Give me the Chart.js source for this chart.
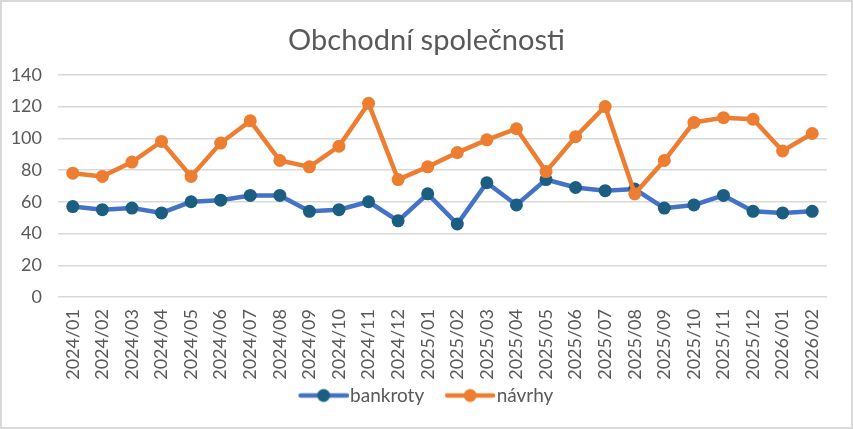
<!DOCTYPE html>
<html>
<head>
<meta charset="utf-8">
<script src="https://cdn.jsdelivr.net/npm/chart.js@4"></script>
<style>
  html, body { margin: 0; padding: 0; background: #fff; }
  #wrap { width: 853px; height: 429px; box-sizing: border-box; border: 2px solid #d9d9d9; }
</style>
</head>
<body>
<div id="wrap"><canvas id="chart"></canvas></div>
<script>
var months = ["2024/01", "2024/02", "2024/03", "2024/04", "2024/05", "2024/06", "2024/07",
  "2024/08", "2024/09", "2024/10", "2024/11", "2024/12", "2025/01", "2025/02", "2025/03",
  "2025/04", "2025/05", "2025/06", "2025/07", "2025/08", "2025/09", "2025/10", "2025/11",
  "2025/12", "2026/01", "2026/02"];
var bankroty = [57, 55, 56, 53, 60, 61, 64, 64, 54, 55, 60, 48, 65, 46, 72,
  58, 74, 69, 67, 68, 56, 58, 64, 54, 53, 54];
var navrhy = [78, 76, 85, 98, 76, 97, 111, 86, 82, 95, 122, 74, 82, 91, 99,
  106, 79, 101, 120, 65, 86, 110, 113, 112, 92, 103];

var textColor = "#595959";
var gridColor = "#d9d9d9";
var font = "Lato, 'Open Sans', sans-serif";

// legend symbol: line with a dot, drawn wider than the legend box so it sits close to the text
function legendSymbol(lineColor, dotColor) {
  var c = document.createElement("canvas");
  c.width = 76;
  c.height = 16;
  var g = c.getContext("2d");
  g.strokeStyle = lineColor;
  g.lineWidth = 4.5;
  g.lineCap = "round";
  g.beginPath();
  g.moveTo(28, 8);
  g.lineTo(74, 8);
  g.stroke();
  g.fillStyle = dotColor;
  g.beginPath();
  g.arc(51, 8, 6.5, 0, Math.PI * 2);
  g.fill();
  return c;
}

// the title is centred on the whole canvas, not on the padded box
var centerTitle = {
  id: "centerTitle",
  afterLayout: function (chart) {
    var t = chart.titleBlock;
    var d = chart.width / 2 - (t.left + t.right) / 2;
    t.left += d;
    t.right += d;
  },
};

window.addEventListener("DOMContentLoaded", function () {
  var ctx = document.getElementById("chart").getContext("2d");
  new Chart(ctx, {
    type: "line",
    data: {
      labels: months,
      datasets: [
        {
          label: "bankroty",
          data: bankroty,
          borderColor: "#4472c4",
          borderWidth: 4.5,
          pointBackgroundColor: "#1b5e82",
          pointBorderColor: "#1b5e82",
          pointRadius: 6.5,
          pointBorderWidth: 0,
          tension: 0,
          order: 1,
        },
        {
          label: "návrhy",
          data: navrhy,
          borderColor: "#ed7d31",
          borderWidth: 4.5,
          pointBackgroundColor: "#ed7d31",
          pointBorderColor: "#ed7d31",
          pointRadius: 6.5,
          pointBorderWidth: 0,
          tension: 0,
          order: 0,
        },
      ],
    },
    plugins: [centerTitle],
    options: {
      responsive: true,
      maintainAspectRatio: false,
      animation: false,
      layout: { padding: { left: 5, right: 24, top: 0, bottom: 12 } },
      plugins: {
        tooltip: { enabled: false },
        title: {
          display: true,
          text: "Obchodní společnosti",
          color: textColor,
          font: { family: font, size: 29, weight: "normal" },
          padding: { top: 21, bottom: 17 },
        },
        legend: {
          position: "bottom",
          labels: {
            usePointStyle: true,
            pointStyleWidth: 60,
            padding: 3,
            color: textColor,
            font: { family: font, size: 19 },
            generateLabels: function (chart) {
              var syms = [legendSymbol("#4472c4", "#1b5e82"), legendSymbol("#ed7d31", "#ed7d31")];
              return chart.data.datasets.map(function (ds, i) {
                return {
                  text: ds.label,
                  pointStyle: syms[i],
                  fillStyle: ds.borderColor,
                  strokeStyle: ds.borderColor,
                  lineWidth: 0,
                  fontColor: textColor,
                  datasetIndex: i,
                  hidden: false,
                };
              });
            },
          },
        },
      },
      scales: {
        x: {
          offset: true,
          grid: { display: false, drawTicks: false },
          border: { display: false },
          afterFit: function (scale) { scale.height = 86; },
          ticks: {
            autoSkip: false,
            minRotation: 90,
            maxRotation: 90,
            padding: 12,
            color: textColor,
            font: { family: font, size: 18 },
          },
        },
        y: {
          min: 0,
          max: 140,
          grid: { color: gridColor, lineWidth: 1.5, drawTicks: false },
          border: { display: false },
          afterFit: function (scale) { scale.width = 51; },
          ticks: {
            stepSize: 20,
            padding: 16,
            color: textColor,
            font: { family: font, size: 18 },
          },
        },
      },
    },
  });
});
</script>
</body>
</html>
